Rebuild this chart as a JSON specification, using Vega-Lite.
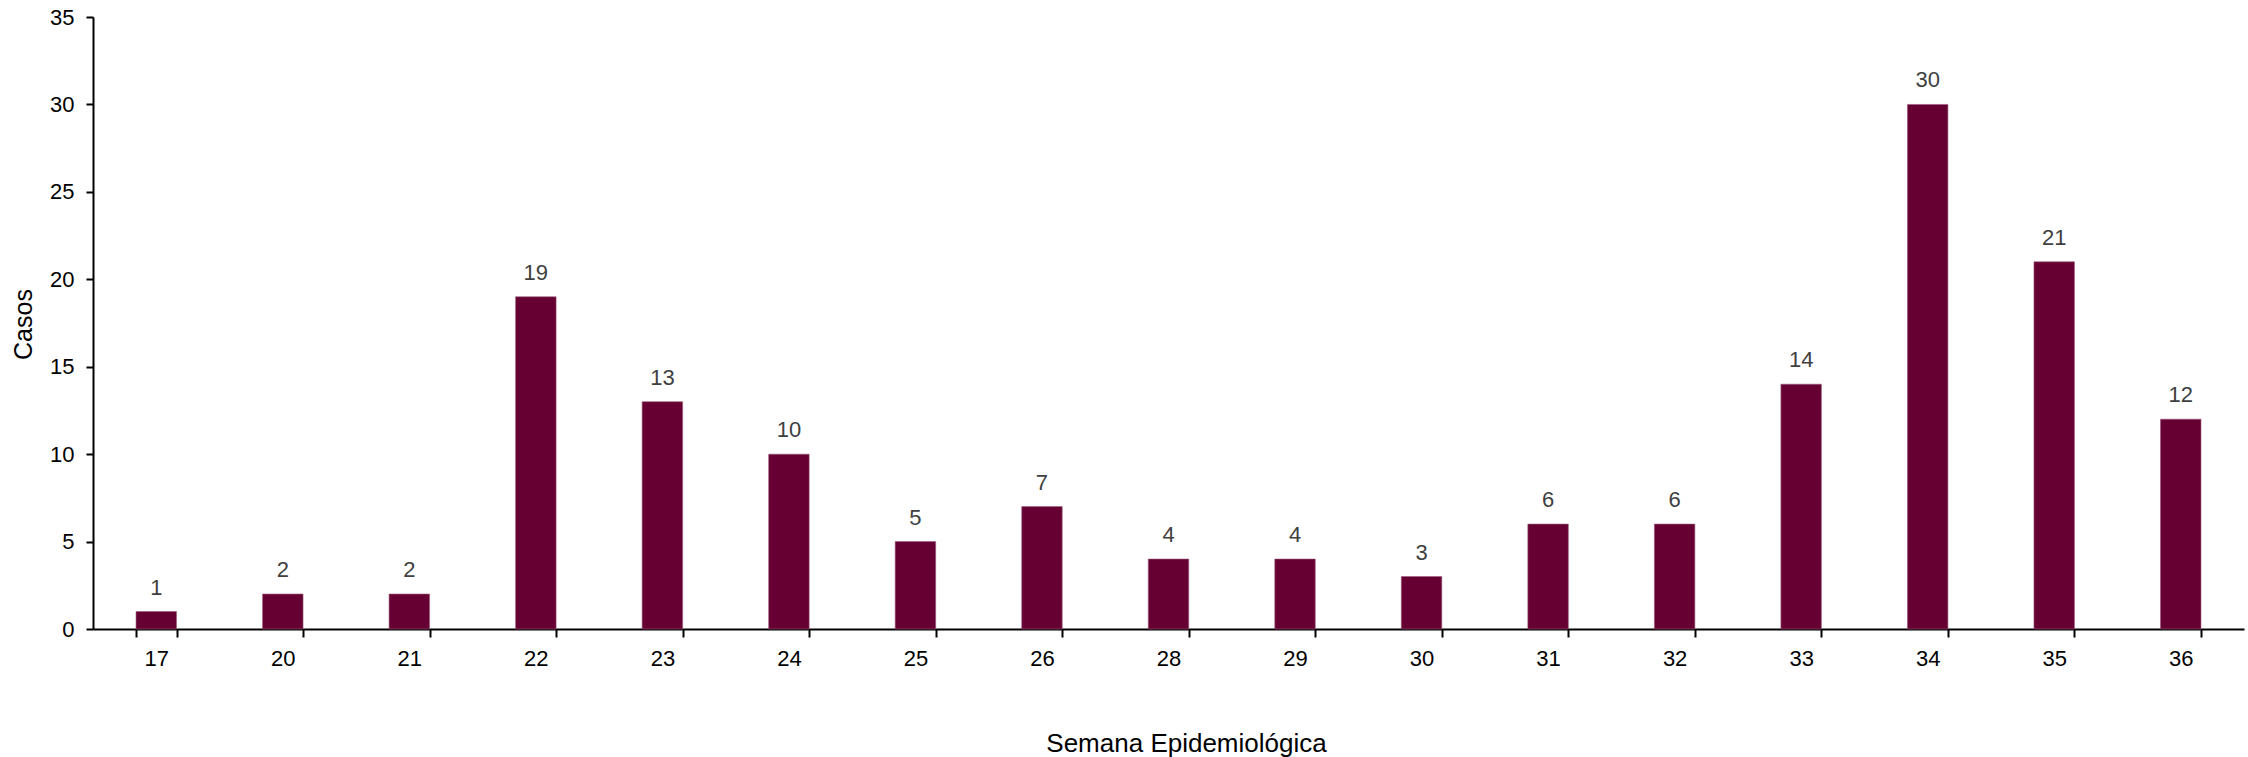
{
  "$schema": "https://vega.github.io/schema/vega-lite/v6.json",
  "width": 2151,
  "height": 612,
  "autosize": {"type": "none"},
  "padding": {"left": 93, "top": 17, "right": 4, "bottom": 128},
  "background": "white",
  "config": {
    "view": {"stroke": null},
    "font": "Liberation Sans",
    "axis": {"grid": false, "domainColor": "black", "tickColor": "black", "labelColor": "black", "titleColor": "black", "labelFont": "Liberation Sans", "titleFont": "Liberation Sans", "titleFontWeight": "normal", "domainWidth": 2, "tickWidth": 2}
  },
  "data": {
    "values": [
      {"semana": "17", "casos": 1},
      {"semana": "20", "casos": 2},
      {"semana": "21", "casos": 2},
      {"semana": "22", "casos": 19},
      {"semana": "23", "casos": 13},
      {"semana": "24", "casos": 10},
      {"semana": "25", "casos": 5},
      {"semana": "26", "casos": 7},
      {"semana": "28", "casos": 4},
      {"semana": "29", "casos": 4},
      {"semana": "30", "casos": 3},
      {"semana": "31", "casos": 6},
      {"semana": "32", "casos": 6},
      {"semana": "33", "casos": 14},
      {"semana": "34", "casos": 30},
      {"semana": "35", "casos": 21},
      {"semana": "36", "casos": 12}
    ]
  },
  "encoding": {
    "x": {
      "field": "semana", "type": "ordinal", "sort": null,
      "scale": {"paddingInner": 0.68, "paddingOuter": 0.34},
      "axis": {
        "title": "Semana Epidemiológica", "labelAngle": 0, "labelFontSize": 22, "titleFontSize": 26,
        "tickBand": "extent", "tickSize": 8, "labelPadding": 11,
        "titleX": 1093, "titleY": 114, "titleBaseline": "middle"
      }
    },
    "y": {
      "field": "casos", "type": "quantitative",
      "scale": {"domain": [0, 35], "nice": false},
      "axis": {
        "title": "Casos", "values": [0, 5, 10, 15, 20, 25, 30, 35], "labelFontSize": 22, "titleFontSize": 25,
        "tickSize": 7, "labelPadding": 12,
        "titleX": -70, "titleY": 307, "titleBaseline": "middle", "titleAngle": -90
      }
    }
  },
  "layer": [
    {"mark": {"type": "bar", "color": "#660033", "stroke": "#9a5a7a", "strokeWidth": 0.6}},
    {"mark": {"type": "text", "baseline": "alphabetic", "dy": -17, "fontSize": 22, "color": "#404040"}, "encoding": {"text": {"field": "casos", "type": "quantitative"}}}
  ]
}
